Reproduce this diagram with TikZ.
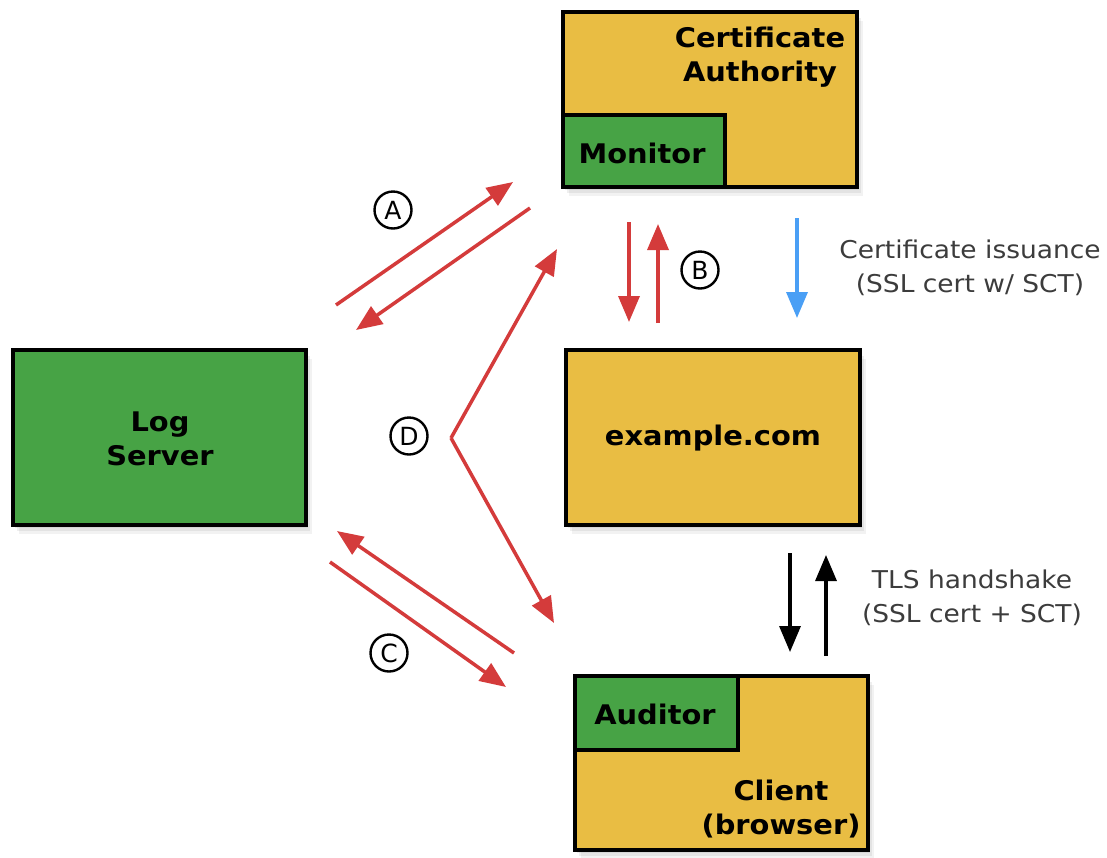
\documentclass[tikz,border=0pt]{standalone}
\usepackage{fontspec}
\setmainfont{DejaVu Sans}
\newfontfamily\boldwide[FakeStretch=1.07]{DejaVu Sans Bold}
\newfontfamily\grayfont[FakeStretch=1.08]{DejaVu Sans}
\usetikzlibrary{arrows.meta,shadows}
\definecolor{boxyellow}{HTML}{E9BD43}
\definecolor{boxgreen}{HTML}{47A345}
\definecolor{arrred}{HTML}{D43B3B}
\definecolor{arrblue}{HTML}{4A9FF5}
\definecolor{labgray}{HTML}{3C3C3C}
\tikzset{
  softshadow/.style={drop shadow={opacity=0.14,shadow xshift=2pt,shadow yshift=-3pt},
                     drop shadow={opacity=0.12,shadow xshift=4pt,shadow yshift=-6pt},
                     drop shadow={opacity=0.10,shadow xshift=6pt,shadow yshift=-9pt}},
  ybox/.style={draw=black,line width=3.2pt,fill=boxyellow,rectangle,inner sep=0pt,softshadow},
  gbox/.style={draw=black,line width=3.2pt,fill=boxgreen,rectangle,inner sep=0pt},
  gboxs/.style={gbox,softshadow},
  btext/.style={font=\fontsize{27}{34}\boldwide,align=center,inner sep=0pt},
  gtext/.style={font=\fontsize{24.5}{34}\grayfont,text=labgray,align=center,inner sep=0pt},
  tip/.style={-{Triangle[length=26pt,width=21pt]}},
  redarr/.style={draw=arrred,line width=3.5pt,tip},
  bluearr/.style={draw=arrblue,line width=3.5pt,tip},
  blackarr/.style={draw=black,line width=3.3pt,tip},
  circlab/.style={circle,draw=black,line width=2.4pt,minimum size=37pt,inner sep=0pt,font=\fontsize{25}{25}\selectfont}
}
\begin{document}
\begin{tikzpicture}[x=1pt,y=-1pt]
\useasboundingbox (0,0) rectangle (1107,857);
\fill[white] (0,0) rectangle (1107,857);
% boxes
\node[ybox,minimum width=294pt,minimum height=175pt] (ca) at (710,99.5) {};
\node[gbox,minimum width=162pt,minimum height=72pt] (mon) at (644,151) {};
\node[btext] (catext) at (760,57) {Certificate\\Authority};
\node[btext] (montext) at (642,153) {Monitor};

\node[ybox,minimum width=294pt,minimum height=175pt] (ex) at (713,437.5) {};
\node[btext] (extext) at (713,438) {example.com};

\node[gboxs,minimum width=293pt,minimum height=175pt] (log) at (159.5,437.5) {};
\node[btext] (logtext) at (160,439) {Log\\Server};

\node[ybox,minimum width=293pt,minimum height=174pt] (cl) at (721.5,763) {};
\node[gbox,minimum width=163pt,minimum height=74pt] (aud) at (656.5,713) {};
\node[btext] (audtext) at (655,714) {Auditor};
\node[btext] (cltext) at (781,809) {Client\\(browser)};

% coordinates
\coordinate (a1s) at (336,305); \coordinate (a1e) at (513,182);
\coordinate (a2s) at (530,208); \coordinate (a2e) at (356,330);
\coordinate (b1s) at (629,222); \coordinate (b1e) at (629,322);
\coordinate (b2s) at (658,323); \coordinate (b2e) at (658,224);
\coordinate (bls) at (797,218); \coordinate (ble) at (797,318);
\coordinate (dv) at (451,438);
\coordinate (d1e) at (557,249); \coordinate (d2e) at (554,623);
\coordinate (c1s) at (514,653); \coordinate (c1e) at (337,531);
\coordinate (c2s) at (330,562); \coordinate (c2e) at (506,687);
\coordinate (t1s) at (790,553); \coordinate (t1e) at (790,652);
\coordinate (t2s) at (826,656); \coordinate (t2e) at (826,555);

\draw[redarr] (a1s) -- (a1e);
\draw[redarr] (a2s) -- (a2e);
\draw[redarr] (b1s) -- (b1e);
\draw[redarr] (b2s) -- (b2e);
\draw[bluearr] (bls) -- (ble);
\draw[redarr] (dv) -- (d1e);
\draw[redarr] (dv) -- (d2e);
\draw[redarr] (c1s) -- (c1e);
\draw[redarr] (c2s) -- (c2e);
\draw[blackarr] (t1s) -- (t1e);
\draw[blackarr] (t2s) -- (t2e);

% circle labels
\node[circlab] (la) at (393,210) {A};
\node[circlab] (lb) at (700,270) {B};
\node[circlab] (ld) at (409,436) {D};
\node[circlab] (lc) at (389,653) {C};

% side labels
\node[gtext] (issue) at (970,268) {Certificate issuance\\(SSL cert w/ SCT)};
\node[gtext] (tls) at (972,598) {TLS handshake\\(SSL cert + SCT)};
\end{tikzpicture}
\end{document}
